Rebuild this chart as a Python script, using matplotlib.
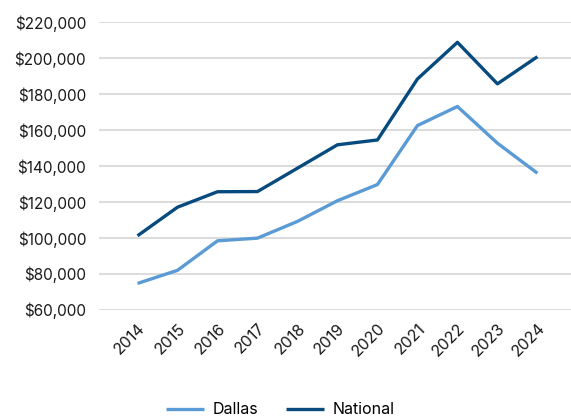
import matplotlib.pyplot as plt
from matplotlib.ticker import FuncFormatter

years = ['2014', '2015', '2016', '2017', '2018', '2019',
         '2020', '2021', '2022', '2023', '2024']
dallas = [74600, 81900, 98300, 99800, 109100, 120600,
          129600, 162400, 173000, 152600, 135900]
national = [101100, 117000, 125600, 125700, 138700, 151700,
            154400, 188300, 208700, 185600, 200700]

plt.rcParams['font.family'] = ['Inter', 'DejaVu Sans']

fig = plt.figure(figsize=(5.71, 4.18), dpi=100)
ax = fig.add_axes([0.1729, 0.2591, 0.8271, 0.6883])

x = range(len(years))
ax.plot(x, dallas, color='#5B9BD5', lw=2.4, label='Dallas', solid_capstyle='butt')
ax.plot(x, national, color='#074A7E', lw=2.4, label='National', solid_capstyle='butt')

ax.set_ylim(60000, 220000)
ax.set_yticks(range(60000, 220001, 20000))
ax.yaxis.set_major_formatter(FuncFormatter(lambda v, p: f'${v:,.0f}'))
ax.set_xlim(-0.97, 10.84)
ax.set_xticks(list(x))
ax.set_xticklabels(years, rotation=45, ha='right', rotation_mode='anchor')

ax.grid(axis='y', color='#D9D9D9', lw=1.3)
ax.set_axisbelow(True)
for s in ax.spines.values():
    s.set_visible(False)
ax.tick_params(axis='both', length=0, colors='#1a1a1a')
ax.tick_params(axis='y', pad=9, labelsize=11)
ax.tick_params(axis='x', pad=8, labelsize=11.5)

fig.legend(loc='center', bbox_to_anchor=(0.491, 0.02), ncol=2, frameon=False,
           fontsize=11.5, handlelength=2.4, handletextpad=0.55, columnspacing=1.7)

fig.savefig('out.png', dpi=100)
